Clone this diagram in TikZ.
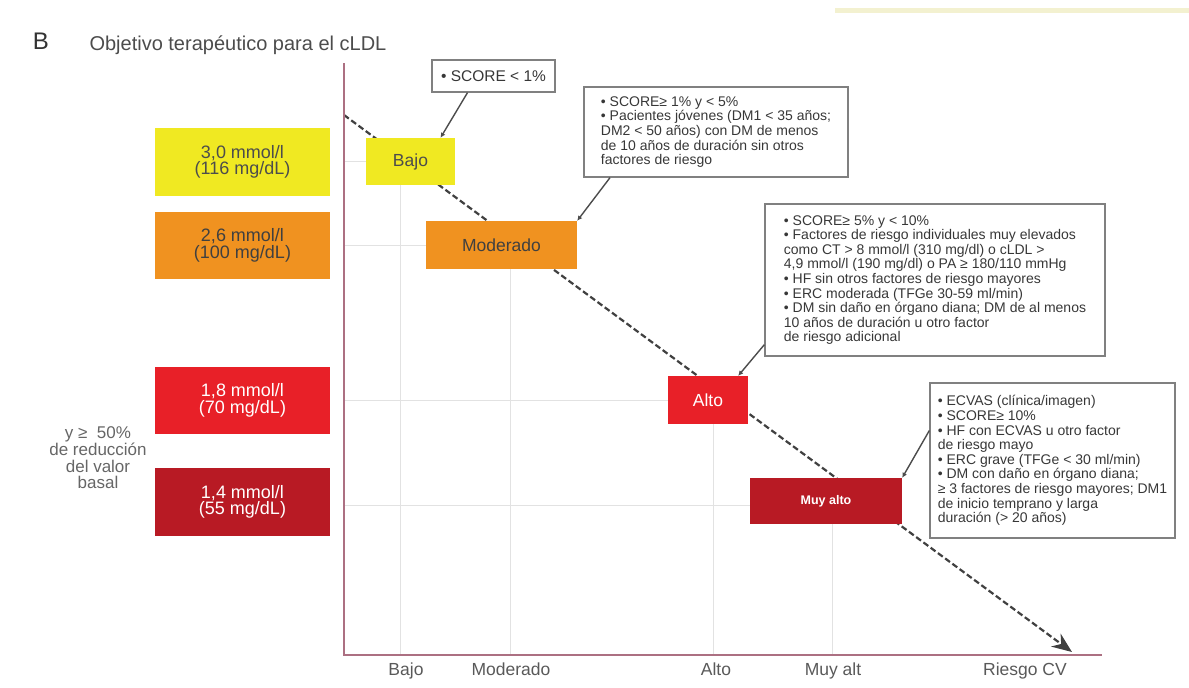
\documentclass[tikz,border=0pt]{standalone}
\usepackage{fontspec}
\setmainfont{Liberation Sans}
\usepackage{xcolor}
\usetikzlibrary{arrows.meta}

\definecolor{lvlyellow}{RGB}{240,233,34}
\definecolor{lvlorange}{RGB}{240,146,32}
\definecolor{lvlred}{RGB}{232,32,40}
\definecolor{lvldark}{RGB}{184,26,36}
\definecolor{axismauve}{RGB}{172,112,130}
\definecolor{gridgrey}{RGB}{226,226,226}
\definecolor{inkgrey}{RGB}{55,55,55}
\definecolor{topbar}{RGB}{243,241,208}

\begin{document}
\begin{tikzpicture}[x=1pt, y=-1pt, line width=0.4pt,
  target/.style={minimum width=175pt, inner sep=0pt, align=center,
    font=\fontsize{18}{15}\selectfont},
  risk/.style={inner sep=0pt, font=\fontsize{17.5}{19}\selectfont},
  callout/.style={draw=black!50, line width=1.3pt, inner sep=3pt, align=left,
    text=inkgrey, font=\fontsize{14}{14.6}\selectfont},
  pointer/.style={draw=black!70, line width=1.4pt, -{Latex[length=5pt,width=5pt]}},
  gridline/.style={draw=gridgrey, line width=1pt},
  axislabel/.style={anchor=base, text=black!65, font=\fontsize{17.5}{19}\selectfont}]
  \useasboundingbox (0,0) rectangle (1189,688);
  \fill[topbar] (835,8) rectangle (1189,13);

  % title
  \node[font=\fontsize{24}{26}\selectfont, text=black!80] (panel) at (41,41) {B};
  \node[anchor=west, font=\fontsize{20}{22}\selectfont, text=black!70] (title) at (86,45) {Objetivo terapéutico para el cLDL};

  % trend line, under the risk boxes
  \coordinate (tstart) at (344,115);
  \coordinate (tend) at (1072,652);
  \draw[black!75, line width=2.2pt, dash pattern=on 6pt off 3pt, -{Stealth[length=20pt,width=16pt]}] (tstart) -- (tend);

  % risk levels
  \node[risk, fill=lvlyellow, minimum width=89pt, minimum height=47pt, text=black!70] (bajo) at (410.5,161.5) {Bajo};
  \node[risk, fill=lvlorange, minimum width=151pt, minimum height=48pt, text=black!75] (mod) at (501.5,245) {Moderado};
  \node[risk, fill=lvlred, minimum width=80pt, minimum height=48pt, text=white] (alto) at (708,400) {Alto};
  \node[risk, fill=lvldark, minimum width=152pt, minimum height=46pt, text=white, font=\fontsize{12.5}{14}\selectfont\bfseries] (muy) at (826,501) {Muy alto};

  % axes and grid
  \coordinate (o) at (344,655);
  \coordinate (ytop) at (344,63);
  \coordinate (xend) at (1102,655);
  \coordinate (gbajo) at (400,655);
  \coordinate (gmod) at (510,655);
  \coordinate (galto) at (713,655);
  \coordinate (gmuy) at (832,655);
  \draw[gridline] (bajo.west) -- (bajo.west -| o);
  \draw[gridline] (mod.west) -- (mod.west -| o);
  \draw[gridline] (alto.west) -- (alto.west -| o);
  \draw[gridline] ([yshift=-4pt]muy.west) -- ([yshift=-4pt]muy.west -| o);
  \draw[gridline] (bajo.south -| gbajo) -- (gbajo);
  \draw[gridline] (mod.south -| gmod) -- (gmod);
  \draw[gridline] (alto.south -| galto) -- (galto);
  \draw[gridline] (muy.south -| gmuy) -- (gmuy);
  \draw[axismauve, line width=2pt] (ytop) -- (o) -- (xend);

  \node[axislabel] (xbajo) at (406,675) {Bajo};
  \node[axislabel] (xmod) at (511,675) {Moderado};
  \node[axislabel] (xalto) at (716,675) {Alto};
  \node[axislabel] (xmuy) at (833,675) {Muy alt};
  \node[axislabel] (xcv) at (1025,675) {Riesgo CV};

  % cLDL targets
  \node[target, fill=lvlyellow, minimum height=68pt, text=black!70] (t30) at (242.5,162) {3,0 mmol/l\\(116 mg/dL)};
  \node[target, fill=lvlorange, minimum height=67pt, text=black!75] (t26) at (242.5,245.5) {2,6 mmol/l\\(100 mg/dL)};
  \node[target, fill=lvlred, minimum height=67pt, text=white] (t18) at (242.5,400.5) {1,8 mmol/l\\(70 mg/dL)};
  \node[target, fill=lvldark, minimum height=68pt, text=white] (t14) at (242.5,502) {1,4 mmol/l\\(55 mg/dL)};
  \node[align=center, text=black!60, font=\fontsize{17}{16.6}\selectfont] (basal) at (98,458) {y ≥\ \ 50\%\\de reducción\\del valor\\basal};

  % criteria
  \node[callout, minimum width=123pt, minimum height=32pt, align=center, font=\fontsize{15.5}{17}\selectfont] (c1) at (493.5,76) {• SCORE < 1\%};
  \node[callout, minimum width=264pt, minimum height=90pt] (c2) at (716,132) {• SCORE≥ 1\% y < 5\%\\
    • Pacientes jóvenes (DM1 < 35 años;\\
    DM2 < 50 años) con DM de menos\\
    de 10 años de duración sin otros\\
    factores de riesgo};
  \node[callout, minimum width=340pt, minimum height=152pt] (c3) at (935,280) {• SCORE≥ 5\% y < 10\%\\
    • Factores de riesgo individuales muy elevados\\
    como CT > 8 mmol/l (310 mg/dl) o cLDL >\\
    4,9 mmol/l (190 mg/dl) o PA ≥ 180/110 mmHg\\
    • HF sin otros factores de riesgo mayores\\
    • ERC moderada (TFGe 30-59 ml/min)\\
    • DM sin daño en órgano diana; DM de al menos\\
    10 años de duración u otro factor\\
    de riesgo adicional};
  \node[callout, minimum width=245pt, minimum height=155pt] (c4) at (1052.5,460.5) {• ECVAS (clínica/imagen)\\
    • SCORE≥ 10\%\\
    • HF con ECVAS u otro factor\\
    de riesgo mayo\\
    • ERC grave (TFGe < 30 ml/min)\\
    • DM con daño en órgano diana;\\
    ≥ 3 factores de riesgo mayores; DM1\\
    de inicio temprano y larga\\
    duración (> 20 años)};

  \draw[pointer] ([xshift=-26pt]c1.south) -- ([xshift=30pt]bajo.north);
  \draw[pointer] ([xshift=-106pt]c2.south) -- (mod.north east);
  \draw[pointer] ([yshift=12pt]c3.south west) -- ([xshift=-10pt]alto.north east);
  \draw[pointer] ([yshift=30pt]c4.west) -- (muy.north east);
\end{tikzpicture}
\end{document}
